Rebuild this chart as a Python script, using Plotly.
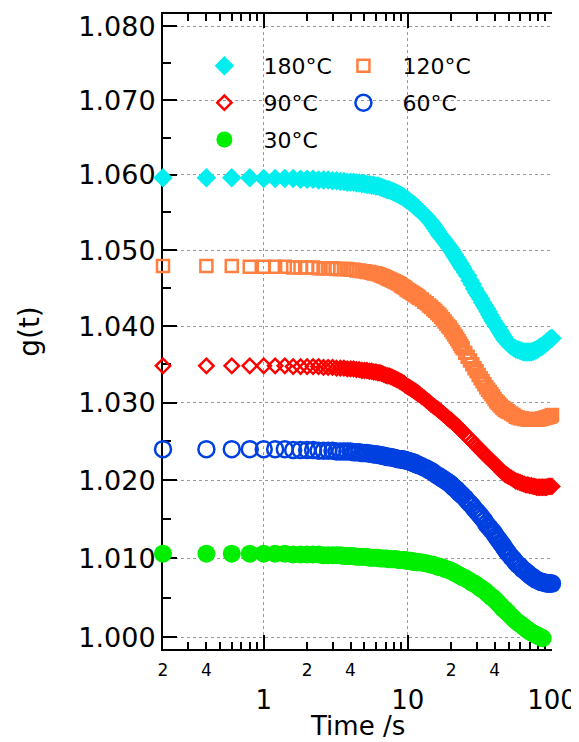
import math
import plotly.graph_objects as go

# ---------------- data ----------------
time_s = [0.2, 0.4, 0.6, 0.8, 1.0, 1.2, 1.4, 1.6, 1.8, 2.0,
          2.2, 2.4, 2.6, 2.8, 3.0, 3.2, 3.4, 3.6, 3.8, 4.0,
          4.2, 4.4, 4.6, 4.8, 5.0, 5.2, 5.4, 5.6, 5.8, 6.0,
          6.2, 6.4, 6.6, 6.8, 7.0, 7.2, 7.4, 7.6, 7.8, 8.0,
          8.2, 8.4, 8.6, 8.8, 9.0, 9.2, 9.4, 9.6, 9.8, 10.0,
          10.2, 10.4, 10.6, 10.8, 11.0, 11.2, 11.4, 11.6, 11.8, 12.0,
          12.5, 13.0, 13.5, 14.0, 14.5, 15.0, 15.5, 16.0, 16.5, 17.0, 17.5, 18.0,
          18.5, 19.0, 19.5, 20.0, 20.5, 21.0, 21.5, 22.0, 22.5, 23.0, 23.5, 24.0,
          25, 26, 27, 28, 29, 30, 31, 32, 33, 34, 35, 36, 37,
          38, 39, 40, 41, 42, 43, 44, 45, 46, 47, 48, 49, 50,
          52, 54, 56, 58, 60, 62, 64, 66, 68, 70, 72, 74, 76,
          78, 80, 82, 84, 86, 88, 90, 92, 94, 96, 98, 100]

g_180 = [1.0596, 1.0596, 1.0596, 1.0596, 1.0595, 1.0595, 1.0595, 1.0595, 1.0594, 1.0594,
         1.0594, 1.0593, 1.0593, 1.0593, 1.0592, 1.0592, 1.0591, 1.0591, 1.0590, 1.0590,
         1.0590, 1.0589, 1.0589, 1.0588, 1.0588, 1.0587, 1.0587, 1.0586, 1.0586, 1.0585,
         1.0585, 1.0584, 1.0583, 1.0582, 1.0581, 1.0580, 1.0580, 1.0579, 1.0578, 1.0577,
         1.0576, 1.0575, 1.0574, 1.0573, 1.0572, 1.0571, 1.0570, 1.0568, 1.0567, 1.0566,
         1.0565, 1.0563, 1.0562, 1.0561, 1.0560, 1.0559, 1.0557, 1.0556, 1.0555, 1.0553,
         1.0550, 1.0547, 1.0544, 1.0540, 1.0537, 1.0533, 1.0529, 1.0525, 1.0521, 1.0518, 1.0515, 1.0512,
         1.0509, 1.0506, 1.0503, 1.0500, 1.0497, 1.0494, 1.0491, 1.0488, 1.0485, 1.0482, 1.0479, 1.0476,
         1.0471, 1.0466, 1.0460, 1.0455, 1.0449, 1.0444, 1.0440, 1.0436, 1.0431, 1.0427, 1.0423, 1.0419, 1.0415,
         1.0411, 1.0407, 1.0404, 1.0401, 1.0398, 1.0395, 1.0392, 1.0389, 1.0386, 1.0383, 1.0381, 1.0379, 1.0377,
         1.0374, 1.0372, 1.0370, 1.0369, 1.0368, 1.0367, 1.0366, 1.0366, 1.0366, 1.0366, 1.0366, 1.0367, 1.0368,
         1.0369, 1.0370, 1.0372, 1.0373, 1.0374, 1.0376, 1.0377, 1.0379, 1.0380, 1.0382, 1.0383, 1.0384]

g_120 = [1.0479, 1.0479, 1.0479, 1.0478, 1.0478, 1.0478, 1.0478, 1.0477, 1.0477, 1.0477,
         1.0477, 1.0476, 1.0476, 1.0476, 1.0476, 1.0475, 1.0475, 1.0475, 1.0475, 1.0474,
         1.0474, 1.0473, 1.0473, 1.0472, 1.0472, 1.0471, 1.0471, 1.0470, 1.0469, 1.0469,
         1.0468, 1.0467, 1.0466, 1.0465, 1.0464, 1.0463, 1.0462, 1.0461, 1.0460, 1.0459,
         1.0458, 1.0457, 1.0456, 1.0455, 1.0453, 1.0452, 1.0451, 1.0450, 1.0448, 1.0447,
         1.0446, 1.0445, 1.0444, 1.0443, 1.0442, 1.0441, 1.0440, 1.0439, 1.0438, 1.0437,
         1.0435, 1.0432, 1.0430, 1.0427, 1.0425, 1.0422, 1.0420, 1.0417, 1.0415, 1.0412, 1.0409, 1.0406,
         1.0403, 1.0400, 1.0398, 1.0395, 1.0392, 1.0389, 1.0386, 1.0383, 1.0380, 1.0377, 1.0374, 1.0371,
         1.0365, 1.0360, 1.0355, 1.0350, 1.0345, 1.0341, 1.0336, 1.0332, 1.0328, 1.0324, 1.0320, 1.0317, 1.0314,
         1.0311, 1.0308, 1.0305, 1.0302, 1.0300, 1.0298, 1.0296, 1.0294, 1.0293, 1.0291, 1.0290, 1.0289, 1.0288,
         1.0286, 1.0284, 1.0282, 1.0281, 1.0280, 1.0280, 1.0279, 1.0279, 1.0278, 1.0278, 1.0278, 1.0278, 1.0278,
         1.0278, 1.0278, 1.0279, 1.0279, 1.0280, 1.0280, 1.0281, 1.0281, 1.0282, 1.0282, 1.0283, 1.0284]

g_90 = [1.0348, 1.0348, 1.0348, 1.0348, 1.0348, 1.0348, 1.0348, 1.0347, 1.0347, 1.0347,
        1.0347, 1.0347, 1.0346, 1.0346, 1.0346, 1.0345, 1.0345, 1.0345, 1.0344, 1.0344,
        1.0344, 1.0343, 1.0343, 1.0342, 1.0342, 1.0342, 1.0341, 1.0341, 1.0340, 1.0340,
        1.0339, 1.0339, 1.0338, 1.0337, 1.0336, 1.0335, 1.0335, 1.0334, 1.0333, 1.0332,
        1.0331, 1.0330, 1.0329, 1.0328, 1.0327, 1.0326, 1.0325, 1.0323, 1.0322, 1.0321,
        1.0320, 1.0319, 1.0318, 1.0317, 1.0316, 1.0315, 1.0314, 1.0313, 1.0312, 1.0311,
        1.0308, 1.0306, 1.0303, 1.0301, 1.0298, 1.0296, 1.0294, 1.0292, 1.0290, 1.0288, 1.0286, 1.0284,
        1.0282, 1.0280, 1.0278, 1.0277, 1.0275, 1.0273, 1.0271, 1.0270, 1.0268, 1.0266, 1.0264, 1.0263,
        1.0259, 1.0256, 1.0253, 1.0250, 1.0247, 1.0244, 1.0241, 1.0239, 1.0236, 1.0234, 1.0231, 1.0229, 1.0227,
        1.0225, 1.0223, 1.0221, 1.0219, 1.0217, 1.0215, 1.0213, 1.0211, 1.0210, 1.0208, 1.0207, 1.0206, 1.0205,
        1.0203, 1.0201, 1.0199, 1.0198, 1.0197, 1.0196, 1.0195, 1.0194, 1.0194, 1.0193, 1.0193, 1.0192, 1.0192,
        1.0191, 1.0191, 1.0191, 1.0191, 1.0191, 1.0191, 1.0191, 1.0191, 1.0192, 1.0192, 1.0192, 1.0192]

g_60 = [1.0240, 1.0240, 1.0240, 1.0240, 1.0240, 1.0240, 1.0240, 1.0239, 1.0239, 1.0239,
        1.0239, 1.0238, 1.0238, 1.0238, 1.0238, 1.0237, 1.0237, 1.0237, 1.0237, 1.0237,
        1.0236, 1.0236, 1.0236, 1.0235, 1.0235, 1.0235, 1.0234, 1.0234, 1.0233, 1.0233,
        1.0233, 1.0232, 1.0232, 1.0231, 1.0231, 1.0230, 1.0230, 1.0230, 1.0229, 1.0229,
        1.0228, 1.0228, 1.0227, 1.0227, 1.0227, 1.0227, 1.0226, 1.0226, 1.0225, 1.0225,
        1.0224, 1.0224, 1.0223, 1.0223, 1.0222, 1.0222, 1.0221, 1.0220, 1.0220, 1.0219,
        1.0218, 1.0216, 1.0215, 1.0213, 1.0212, 1.0210, 1.0208, 1.0206, 1.0205, 1.0203, 1.0202, 1.0200,
        1.0199, 1.0197, 1.0196, 1.0194, 1.0192, 1.0190, 1.0189, 1.0187, 1.0185, 1.0183, 1.0182, 1.0180,
        1.0177, 1.0173, 1.0170, 1.0167, 1.0163, 1.0160, 1.0157, 1.0154, 1.0151, 1.0148, 1.0144, 1.0141, 1.0139,
        1.0136, 1.0134, 1.0131, 1.0128, 1.0125, 1.0123, 1.0120, 1.0118, 1.0115, 1.0113, 1.0110, 1.0108, 1.0106,
        1.0102, 1.0099, 1.0095, 1.0092, 1.0090, 1.0087, 1.0085, 1.0083, 1.0081, 1.0079, 1.0077, 1.0076, 1.0074,
        1.0073, 1.0072, 1.0071, 1.0070, 1.0070, 1.0069, 1.0069, 1.0068, 1.0068, 1.0068, 1.0068, 1.0068]

g_30 = [1.0106, 1.0106, 1.0106, 1.0106, 1.0106, 1.0106, 1.0106, 1.0105, 1.0105, 1.0105,
        1.0105, 1.0105, 1.0104, 1.0104, 1.0104, 1.0104, 1.0104, 1.0103, 1.0103, 1.0103,
        1.0103, 1.0102, 1.0102, 1.0102, 1.0102, 1.0102, 1.0101, 1.0101, 1.0101, 1.0101,
        1.0101, 1.0100, 1.0100, 1.0100, 1.0100, 1.0100, 1.0099, 1.0099, 1.0099, 1.0099,
        1.0099, 1.0099, 1.0098, 1.0098, 1.0098, 1.0098, 1.0098, 1.0098, 1.0097, 1.0097,
        1.0097, 1.0097, 1.0096, 1.0096, 1.0096, 1.0096, 1.0095, 1.0095, 1.0095, 1.0095,
        1.0095, 1.0094, 1.0094, 1.0093, 1.0092, 1.0092, 1.0091, 1.0090, 1.0089, 1.0089, 1.0088, 1.0087,
        1.0086, 1.0086, 1.0085, 1.0084, 1.0083, 1.0082, 1.0081, 1.0080, 1.0079, 1.0078, 1.0077, 1.0076,
        1.0075, 1.0073, 1.0071, 1.0069, 1.0068, 1.0066, 1.0064, 1.0062, 1.0061, 1.0059, 1.0057, 1.0055, 1.0053,
        1.0051, 1.0050, 1.0048, 1.0046, 1.0044, 1.0042, 1.0040, 1.0038, 1.0036, 1.0035, 1.0033, 1.0032, 1.0030,
        1.0027, 1.0024, 1.0021, 1.0019, 1.0017, 1.0015, 1.0013, 1.0011, 1.0009, 1.0008, 1.0006, 1.0005, 1.0004,
        1.0003, 1.0002, 1.0001, 1.0000, 0.9999]

series_names = ["180°C", "120°C", "90°C", "60°C", "30°C"]

y_ticks = [1.000, 1.010, 1.020, 1.030, 1.040, 1.050, 1.060, 1.070, 1.080]
y_ticktext = ["1.000", "1.010", "1.020", "1.030", "1.040", "1.050", "1.060", "1.070", "1.080"]
y_minor = [1.005, 1.015, 1.025, 1.035, 1.045, 1.055, 1.065, 1.075]
x_major = [1, 10, 100]
x_major_text = ["1", "10", "100"]
x_small_lab = [0.2, 0.4, 2, 4, 20, 40]
x_small_text = ["2", "4", "2", "4", "2", "4"]
x_minor = [0.2, 0.3, 0.4, 0.5, 0.6, 0.7, 0.8, 0.9,
           2, 3, 4, 5, 6, 7, 8, 9,
           20, 30, 40, 50, 60, 70, 80, 90]
x_title = "Time /s"
y_title = "g(t)"

values = [g_180, g_120, g_90, g_60, g_30]
for v in values[:4]:
    assert len(v) == len(time_s), (len(v), len(time_s))

# ---------------- styles ----------------
FONT = "DejaVu Sans"
styles = [
    dict(symbol="diamond", color="#00EEEE", size=15, lw=0, legend="legend"),
    dict(symbol="square-open", color="#FF7F40", size=12, lw=2.5, legend="legend2"),
    dict(symbol="diamond-open", color="#FF0000", size=11, lw=2.5, legend="legend3"),
    dict(symbol="circle-open", color="#0040E0", size=16, lw=2.5, legend="legend4"),
    dict(symbol="circle", color="#00EE00", size=18, lw=0, legend="legend5"),
]
legend_pos = {"legend": (0.0576, 0.918), "legend2": (0.415, 0.918),
              "legend3": (0.0576, 0.860), "legend4": (0.415, 0.860),
              "legend5": (0.0576, 0.802)}

fig = go.Figure()
for name, vals, st in zip(series_names, values, styles):
    fig.add_trace(go.Scatter(
        x=time_s[:len(vals)], y=vals, mode="markers", name=name,
        marker=dict(symbol=st["symbol"], color=st["color"], size=st["size"],
                    line=dict(width=st["lw"], color=st["color"])),
        cliponaxis=False, legend=st["legend"], showlegend=True,
        xaxis="x", yaxis="y"))

# empty helper trace so the overlay axis for the small labels is drawn
fig.add_trace(go.Scatter(x=[], y=[], xaxis="x2", yaxis="y", showlegend=False))

xr = [math.log10(0.2), 2]
yr = [math.log10(0.99854), math.log10(1.0817)]

grid = dict(showgrid=True, gridcolor="#9a9a9a", gridwidth=1, griddash="dot")

legends = {}
for key, (lx, ly) in legend_pos.items():
    legends[key] = dict(x=lx, y=ly, xanchor="left", yanchor="middle", visible=True,
                        font=dict(size=22, family=FONT), itemwidth=68,
                        bgcolor="rgba(0,0,0,0)", borderwidth=0, itemsizing="trace")

# the page body adds an 8 px offset, so the figure is 8 px smaller with
# matching margins to keep the plot area where the reference has it
fig.update_layout(
    width=571, height=734,
    margin=dict(l=155, r=27, t=6, b=93),
    showlegend=True,
    paper_bgcolor="white", plot_bgcolor="white",
    font=dict(family=FONT, color="black"),
    xaxis=dict(
        type="log", range=xr, automargin=False,
        tickmode="array", tickvals=x_major, ticktext=x_major_text,
        ticks="inside", ticklen=14, tickwidth=2, tickcolor="black",
        tickfont=dict(size=26, family=FONT), ticklabelstandoff=27,
        showline=True, linecolor="black", linewidth=2, mirror="ticks",
        minor=dict(tickmode="array", tickvals=x_minor, ticks="inside",
                   ticklen=7, tickwidth=2, tickcolor="black", showgrid=False),
        zeroline=False, layer="below traces", **grid),
    xaxis2=dict(
        type="log", range=xr, overlaying="x", side="bottom", anchor="y",
        automargin=False,
        tickmode="array", tickvals=x_small_lab, ticktext=x_small_text,
        ticks="", showline=False, showgrid=False, zeroline=False,
        tickfont=dict(size=17, family=FONT), ticklabelstandoff=9),
    yaxis=dict(
        type="log", range=yr, automargin=False,
        tickmode="array", tickvals=y_ticks, ticktext=y_ticktext,
        ticks="inside", ticklen=14, tickwidth=2, tickcolor="black",
        tickfont=dict(size=27, family=FONT), ticklabelstandoff=0,
        showline=True, linecolor="black", linewidth=2,
        minor=dict(tickmode="array", tickvals=y_minor, ticks="inside",
                   ticklen=8, tickwidth=2, tickcolor="black", showgrid=False),
        title=dict(text=y_title, font=dict(size=28, family=FONT), standoff=31),
        zeroline=False, layer="below traces", **grid),
    annotations=[dict(text=x_title, xref="paper", yref="paper", x=0.5, y=-0.121,
                      xanchor="center", yanchor="middle", showarrow=False,
                      font=dict(size=26, family=FONT, color="black"))],
    **legends,
)

fig.write_html("out.html")
